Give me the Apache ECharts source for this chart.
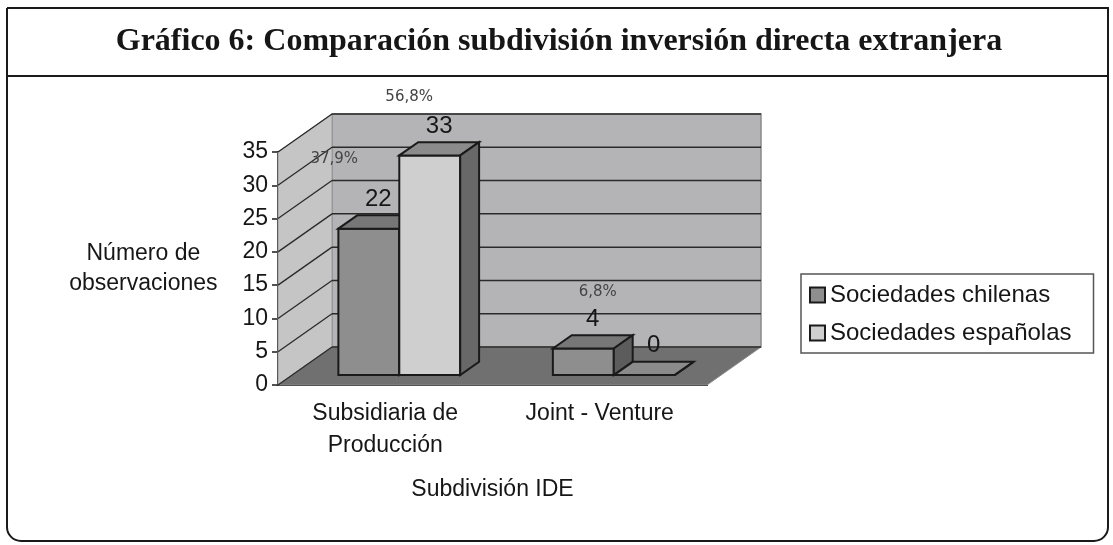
<!DOCTYPE html>
<html>
<head>
<meta charset="utf-8">
<script src="https://cdn.jsdelivr.net/npm/echarts@6/dist/echarts.min.js"></script>
<style>
 html, body { margin: 0; padding: 0; background: #fff; }
 #chart { width: 1113px; height: 545px; }
</style>
</head>
<body>
<div id="chart"></div>
<script>
 // datos del gráfico
 var categorias = ['Subsidiaria de\nProducción', 'Joint - Venture'];
 var chilenas = [22, 4];
 var espanolas = [33, 0];
 var pctChilenas = ['37,9%', '6,8%'];
 var pctEspanolas = ['56,8%', ''];
 var yTicks = [0, 5, 10, 15, 20, 25, 30, 35];

 var myChart = echarts.init(document.getElementById('chart'));

 // profundidad del efecto 3D (px)
 var DX = 54, DY = -38;
 var FRONT = 0.26, BACK = 0.61;
 var FONT = '"Liberation Sans", Arial, sans-serif';
 var INK = '#161616';

 // desplazamiento de las etiquetas de porcentaje respecto del valor
 var pctShift = [[[-44, -40], [5, -27]], [[-30, -29], [0, 0]]];

 function renderWalls(params, api) {
	 var cs = params.coordSys;
	 var l = cs.x, r = cs.x + cs.width, t = cs.y, b = cs.y + cs.height;
	 return {
		 type: 'group',
		 children: [
			 { type: 'polygon', shape: { points: [[l + DX, t + DY], [r + DX, t + DY], [r + DX, b + DY], [l + DX, b + DY]] },
			   style: { fill: '#b4b4b6', stroke: '#8a8a8a', lineWidth: 1.5 } },
			 { type: 'polygon', shape: { points: [[l, b], [l, t], [l + DX, t + DY], [l + DX, b + DY]] },
			   style: { fill: '#c5c5c5', stroke: '#9a9a9a', lineWidth: 1 } },
			 { type: 'polygon', shape: { points: [[l, b], [r, b], [r + DX, b + DY], [l + DX, b + DY]] },
			   style: { fill: '#707070', stroke: '#8a8a8a', lineWidth: 1 } }
		 ]
	 };
 }

 function renderGrid(params, api) {
	 var cs = params.coordSys;
	 var y = api.coord([0, api.value(1)])[1];
	 var l = cs.x, r = cs.x + cs.width;
	 return {
		 type: 'group',
		 children: [
			 { type: 'line', shape: { x1: l, y1: y, x2: l + DX, y2: y + DY }, style: { stroke: '#2a2a2a', lineWidth: 1.3 } },
			 { type: 'line', shape: { x1: l + DX, y1: y + DY, x2: r + DX, y2: y + DY }, style: { stroke: '#2a2a2a', lineWidth: 1.5 } }
		 ]
	 };
 }

 function makeBars(s, colors, pcts) {
	 return function (params, api) {
		 var i = api.value(0), v = api.value(1);
		 var base = api.coord([i, 0]);
		 var top = api.coord([i, v]);
		 var bw = api.size([1, 0])[0] * 0.284;
		 var fx = DX * FRONT, fy = DY * FRONT;
		 var bdx = DX * (BACK - FRONT), bdy = DY * (BACK - FRONT);
		 var x0 = base[0] + fx + (s - 1) * bw, x1 = x0 + bw;
		 var yb = base[1] + fy, yt = top[1] + fy;
		 var st = { stroke: '#1a1a1a', lineWidth: 2, lineJoin: 'miter' };
		 var lx = x0 + bw / 2 + bdx / 2, ly = yt + bdy - 16;
		 var kids = [
			 { type: 'polygon', shape: { points: [[x0, yt], [x1, yt], [x1, yb], [x0, yb]] }, style: Object.assign({ fill: colors[0] }, st) },
			 { type: 'polygon', shape: { points: [[x0, yt], [x0 + bdx, yt + bdy], [x1 + bdx, yt + bdy], [x1, yt]] }, style: Object.assign({ fill: colors[1] }, st) },
			 { type: 'polygon', shape: { points: [[x1, yt], [x1 + bdx, yt + bdy], [x1 + bdx, yb + bdy], [x1, yb]] }, style: Object.assign({ fill: colors[2] }, st) },
			 { type: 'text', x: lx, y: ly, style: { text: String(v), fontSize: 24, fontFamily: FONT, fill: INK, align: 'center', verticalAlign: 'middle' } }
		 ];
		 if (pcts[i]) {
			 kids.push({ type: 'text', x: lx + pctShift[s][i][0], y: ly + pctShift[s][i][1],
				 style: { text: pcts[i], fontSize: 15, fontFamily: '"DejaVu Sans", sans-serif', fill: '#444', align: 'center', verticalAlign: 'middle' } });
		 }
		 return { type: 'group', children: kids };
	 };
 }

 var options = {
	 animation: false,
	 graphic: [
		 { type: 'rect', shape: { x: 7, y: 8, width: 1101, height: 533, r: [0, 0, 14, 14] }, style: { fill: 'none', stroke: '#1a1a1a', lineWidth: 2 } },
		 { type: 'line', shape: { x1: 7, y1: 76, x2: 1108, y2: 76 }, style: { stroke: '#1a1a1a', lineWidth: 2 } },
		 { type: 'text', x: 559, y: 42, style: { text: 'Gráfico 6: Comparación subdivisión inversión directa extranjera',
			 fontSize: 32, fontWeight: 'bold', fontFamily: '"Liberation Serif", "Times New Roman", serif', fill: INK, align: 'center', verticalAlign: 'middle' } }
	 ],
	 legend: {
		 orient: 'vertical',
		 left: 801, top: 274,
		 padding: [7, 22, 6, 8],
		 itemGap: 10,
		 itemWidth: 15, itemHeight: 15,
		 icon: 'rect',
		 borderColor: '#555', borderWidth: 1.5, backgroundColor: '#fff',
		 itemStyle: { borderColor: '#1a1a1a', borderWidth: 2 },
		 textStyle: { fontSize: 24, fontFamily: FONT, color: INK, lineHeight: 28 },
		 data: ['Sociedades chilenas', 'Sociedades españolas']
	 },
	 grid: { left: 278, right: 406, top: 152, bottom: 160 },
	 xAxis: {
		 type: 'category',
		 data: categorias,
		 name: 'Subdivisión IDE',
		 nameLocation: 'middle',
		 nameGap: 93,
		 nameTextStyle: { fontSize: 23, fontFamily: FONT, color: INK },
		 axisLine: { lineStyle: { color: '#1a1a1a', width: 2 } },
		 axisTick: { length: 7, lineStyle: { color: '#1a1a1a', width: 1.5 } },
		 axisLabel: { fontSize: 23, fontFamily: FONT, color: INK, lineHeight: 32, margin: 13 }
	 },
	 yAxis: {
		 type: 'value',
		 min: 0, max: 35, interval: 5,
		 name: 'Número de\nobservaciones',
		 nameLocation: 'middle',
		 nameRotate: 0,
		 nameGap: 98,
		 nameTextStyle: { fontSize: 23, fontFamily: FONT, color: INK, lineHeight: 30, align: 'center', padding: [0, 20, 0, 0] },
		 splitLine: { show: false },
		 axisLine: { show: true, lineStyle: { color: '#1a1a1a', width: 2 } },
		 axisTick: { show: true, length: 6, lineStyle: { color: '#1a1a1a', width: 1.5 } },
		 axisLabel: { fontSize: 23, fontFamily: FONT, color: INK, margin: 10 }
	 },
	 series: [
		 { name: 'walls', type: 'custom', z: 1, silent: true, renderItem: renderWalls, data: [[0, 0]] },
		 { name: 'grid', type: 'custom', z: 2, silent: true, renderItem: renderGrid, data: yTicks.map(function (t) { return [0, t]; }) },
		 { name: 'Sociedades chilenas', type: 'custom', z: 3, itemStyle: { color: '#8e8e8e' },
		   renderItem: makeBars(0, ['#8e8e8e', '#777777', '#5c5c5c'], pctChilenas),
		   data: chilenas.map(function (v, i) { return [i, v]; }) },
		 { name: 'Sociedades españolas', type: 'custom', z: 4, itemStyle: { color: '#cfcfcf' },
		   renderItem: makeBars(1, ['#cfcfcf', '#8b8b8b', '#686868'], pctEspanolas),
		   data: espanolas.map(function (v, i) { return [i, v]; }) }
	 ]
 };

 myChart.setOption(options);
</script>
</body>
</html>
